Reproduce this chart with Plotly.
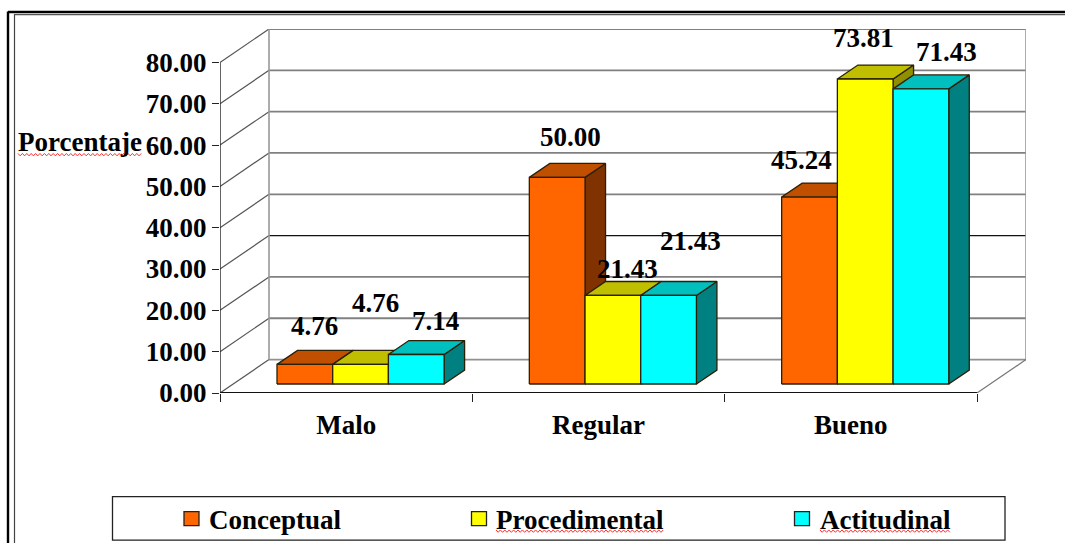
import plotly.graph_objects as go

categories = ["Malo", "Regular", "Bueno"]
series_names = ["Conceptual", "Procedimental", "Actitudinal"]
conceptual = [4.76, 50.00, 45.24]
procedimental = [4.76, 21.43, 73.81]
actitudinal = [7.14, 21.43, 71.43]
series_values = [conceptual, procedimental, actitudinal]
y_ticks = [0, 10, 20, 30, 40, 50, 60, 70, 80]

front_colors = ["#FF6600", "#FFFF00", "#00FFFF"]
top_colors = ["#C04F00", "#BFBF00", "#00BFBF"]
side_colors = ["#803300", "#8F8F00", "#008080"]

W, H = 1065, 544
L, R, T, B = 220, 1026, 28.5, 393.5
UX = (977 - 220) / 3
UY = (393.5 - 62) / 80
WALL_DX = (269 - 220) / UX
WALL_DY = 33.5 / UY
BAR_W = 55.7 / UX
BAR_START = (277 - 220) / UX
BAR_INSET_Y = 9 / UY
D_X = 20.5 / UX
D_Y = 14 / UY
FONT = "Liberation Serif"
FS = 27
TEXT_FONT = dict(family=FONT, size=FS, color="black", weight="bold")


def px(x):
    return (x - L) / (R - L)


def py(y):
    return (B - y) / (B - T)


fig = go.Figure()


def line(xs, ys, color, width):
    fig.add_trace(go.Scatter(x=xs, y=ys, mode="lines", line=dict(color=color, width=width),
                             showlegend=False, hoverinfo="skip", cliponaxis=False))


# Walls and grid
for k in y_ticks:
    strong = k == 30
    line([0, WALL_DX], [k, k + WALL_DY], "#555555", 1.2)
    if k > 0:
        line([WALL_DX, 3 + WALL_DX], [k + WALL_DY] * 2, "#111111" if strong else "#808080", 1.2 if strong else 1.8)
line([WALL_DX, 3 + WALL_DX], [WALL_DY, WALL_DY], "#909090", 1.8)
line([WALL_DX, WALL_DX], [WALL_DY, 80 + WALL_DY], "#999999", 1.6)
line([3 + WALL_DX, 3 + WALL_DX], [WALL_DY, 80 + WALL_DY], "#999999", 1.6)
line([3, 3 + WALL_DX], [0, WALL_DY], "#777777", 1.2)

# Bars: one top, side and front trace per series, drawn left to right
OUT = dict(color="#2a2008", width=1.3)
for s, vals in enumerate(series_values):
    sx, sy, tx, ty, fx, fy = [], [], [], [], [], []
    for c, v in enumerate(vals):
        x0 = c + BAR_START + s * BAR_W
        x1 = x0 + BAR_W
        b = BAR_INSET_Y
        h = v + BAR_INSET_Y
        sx += [x1, x1 + D_X, x1 + D_X, x1, x1, None]
        sy += [b, b + D_Y, h + D_Y, h, b, None]
        tx += [x0, x0 + D_X, x1 + D_X, x1, x0, None]
        ty += [h, h + D_Y, h + D_Y, h, h, None]
        fx += [x0, x1, x1, x0, x0, None]
        fy += [b, b, h, h, b, None]
    for xs, ys, col, nm in ((sx, sy, side_colors[s], "side"), (tx, ty, top_colors[s], "top"), (fx, fy, front_colors[s], "front")):
        fig.add_trace(go.Scatter(x=xs, y=ys, mode="lines", fill="toself", fillcolor=col, line=OUT,
                                 showlegend=False, hoverinfo="skip", cliponaxis=False,
                                 name=f"{series_names[s]} {nm}"))

# Axis lines
line([0, 0], [0, 80], "#222222", 1.4)
line([0, 3], [0, 0], "#111111", 1.8)

# Value labels sit where the picture has them (pixel centres)
label_xy = [
    [(314, 326), (570, 137), (801, 160)],
    [(375, 303), (627, 269), (863, 38)],
    [(435, 321), (690, 241), (946, 52)],
]
annotations = []
for s, vals in enumerate(series_values):
    for c, v in enumerate(vals):
        lx, ly = label_xy[s][c]
        annotations.append(dict(text=f"{v:.2f}", x=px(lx), y=py(ly), xref="paper", yref="paper",
                                showarrow=False, xanchor="center", yanchor="middle", font=TEXT_FONT))
annotations.append(dict(text="Porcentaje", x=px(80), y=py(142), xref="paper", yref="paper",
                        showarrow=False, xanchor="center", yanchor="middle", font=TEXT_FONT))


def pline(x0, y0, x1, y1, color, width):
    return dict(type="line", xref="paper", yref="paper", x0=px(x0), y0=py(y0), x1=px(x1), y1=py(y1),
                line=dict(color=color, width=width))


def squiggle(x0, x1, y):
    pts, x, up = [], x0, True
    while x <= x1:
        pts.append(f"{px(x):.5f},{py(y - 1.2 if up else y + 1.2):.5f}")
        x += 2.2
        up = not up
    return dict(type="path", xref="paper", yref="paper", path="M" + " L".join(pts),
                line=dict(color="#FF3030", width=1))


shapes = [
    pline(8, 11.5, W, 11.5, "#000000", 2.4),
    pline(14, 14, W, 14, "#555555", 1.2),
    pline(8, 11, 8, H, "#000000", 2.4),
    pline(14.5, 14, 14.5, H, "#444444", 1.2),
    dict(type="rect", xref="paper", yref="paper", x0=px(112.5), x1=px(1005), y0=py(497.5), y1=py(541),
         line=dict(color="#222222", width=1.3), fillcolor="rgba(0,0,0,0)"),
    squiggle(18, 143, 154.5),
    squiggle(496, 665, 532),
    squiggle(820, 951, 532),
]

# Legend row
swatch_left = [184, 471.5, 794.5]
legend_text_left = [209, 496, 820]
for s, name in enumerate(series_names):
    shapes.append(dict(type="rect", xref="paper", yref="paper", x0=px(swatch_left[s]), x1=px(swatch_left[s] + 15),
                       y0=py(526.5), y1=py(512.5), fillcolor=front_colors[s],
                       line=dict(color="#222222", width=1.3)))
    annotations.append(dict(text=name, x=px(legend_text_left[s]), y=py(521), xref="paper", yref="paper",
                            showarrow=False, xanchor="left", yanchor="middle", xshift=-2, font=TEXT_FONT))

fig.update_layout(
    width=W, height=H, autosize=False,
    margin=dict(l=L, r=W - R, t=T, b=H - B, pad=0),
    plot_bgcolor="rgba(0,0,0,0)", paper_bgcolor="white",
    showlegend=False,
    annotations=annotations, shapes=shapes,
    xaxis=dict(range=[0, 3 + WALL_DX], showgrid=False, zeroline=False, showline=False,
               tickmode="array", tickvals=[0.5, 1.5, 2.5], ticktext=categories, ticks="", ticklen=0,
               ticklabelstandoff=13,
               minor=dict(tickmode="array", tickvals=[0, 1, 2, 3], ticks="outside", ticklen=8,
                          tickwidth=1.2, tickcolor="#222222", showgrid=False),
               tickfont=TEXT_FONT),
    yaxis=dict(range=[0, (B - T) / UY], showgrid=False, zeroline=False, showline=False,
               tickmode="array", tickvals=y_ticks, tickformat=".2f", ticks="outside", ticklen=7,
               tickwidth=1.2, tickcolor="#222222", tickfont=TEXT_FONT),
)

fig.write_html("out.html", config=dict(displayModeBar=False),
               post_script="document.body.style.margin='0';document.body.style.overflow='hidden';")
